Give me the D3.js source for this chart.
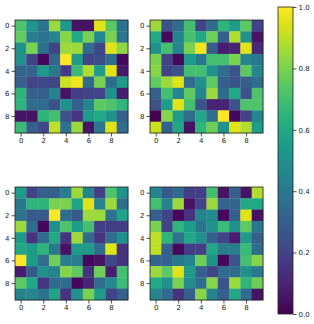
<!DOCTYPE html>
<html><head><meta charset="utf-8">
<script src="https://cdn.jsdelivr.net/npm/d3@7"></script>
<style>body{margin:0;background:#fff}svg{display:block}text{font-family:"DejaVu Sans",sans-serif;font-size:7px;fill:#222}</style>
</head><body><svg id="c" width="314" height="324"></svg>
<script>
const ticks = [0, 2, 4, 6, 8];
const cbTicks = [0.0, 0.2, 0.4, 0.6, 0.8, 1.0];
const gridA = [
 [0.72,0.52,0.38,0.85,0.53,0.05,0.05,0.95,0.74,0.37],
 [0.76,0.42,0.38,0.45,0.82,0.60,0.80,0.47,0.80,0.38],
 [0.50,0.80,0.37,0.20,0.85,0.85,0.35,0.21,0.95,0.83],
 [0.50,0.20,0.02,0.33,1.00,0.55,0.20,0.23,0.35,0.02],
 [0.32,0.32,0.55,0.40,0.17,0.68,0.88,0.55,0.95,0.07],
 [0.30,0.20,0.22,0.20,0.92,0.98,0.35,0.80,0.35,0.55],
 [0.65,0.30,0.30,0.45,0.05,0.18,0.20,0.20,0.50,0.08],
 [0.65,0.35,0.35,0.25,0.50,0.30,0.45,0.75,0.72,0.65],
 [0.05,0.05,0.65,0.70,0.25,0.15,0.55,0.60,0.50,0.30],
 [0.68,0.30,0.22,0.90,0.38,0.85,0.05,0.40,0.95,0.35]];
const gridB = [
 [0.85,0.25,0.35,0.70,0.20,0.35,0.65,0.55,0.75,0.20],
 [0.60,0.02,0.45,0.70,0.60,0.78,0.30,0.88,0.50,0.05],
 [0.50,0.70,0.45,0.80,0.98,0.30,0.08,0.10,0.95,0.12],
 [0.80,0.20,0.02,0.55,0.40,0.70,0.70,0.80,0.45,0.40],
 [0.82,0.20,0.25,0.70,0.70,0.50,0.35,0.25,0.75,0.45],
 [0.75,0.85,0.95,0.35,0.50,0.75,0.30,0.25,0.30,0.35],
 [0.30,0.70,0.45,0.75,0.45,0.85,0.35,0.60,0.25,0.72],
 [0.25,0.55,0.95,0.70,0.25,0.10,0.10,0.25,0.72,0.72],
 [0.00,0.82,0.55,0.35,0.60,0.35,1.00,0.02,0.20,0.45],
 [0.92,0.30,0.60,0.05,0.65,0.78,0.50,0.95,0.88,0.55]];
const gridC = [
 [0.55,0.20,0.30,0.30,0.42,0.85,0.45,0.18,0.72,0.50],
 [0.40,0.65,0.65,0.80,0.80,0.58,0.95,0.45,0.85,0.35],
 [0.38,0.28,0.28,1.00,0.35,0.28,0.85,0.85,0.38,0.58],
 [0.85,0.35,0.02,0.50,0.72,0.55,0.70,0.18,0.18,0.18],
 [0.55,0.15,0.35,0.60,0.15,0.85,0.35,0.15,0.35,0.50],
 [0.60,0.55,0.65,0.40,0.05,0.55,0.55,0.35,0.95,0.15],
 [1.00,0.55,0.35,0.78,0.42,0.42,0.02,0.05,0.22,0.15],
 [0.08,0.28,0.50,0.45,0.82,0.75,0.15,0.78,0.08,0.70],
 [0.75,0.60,0.15,0.35,0.35,0.02,0.10,0.35,0.48,0.68],
 [0.45,0.45,0.38,0.58,0.15,0.50,0.80,0.55,0.20,0.30]];
const gridD = [
 [0.45,0.28,0.35,0.18,0.18,0.70,0.05,0.30,0.05,0.88],
 [0.70,0.45,0.85,0.05,0.20,0.85,0.32,0.32,0.60,0.60],
 [0.30,0.20,0.02,0.15,0.45,0.48,0.02,0.30,0.95,0.05],
 [0.80,0.20,0.65,0.55,0.38,0.50,0.68,0.50,0.75,0.40],
 [0.90,0.65,0.38,0.60,0.50,0.30,0.20,0.08,0.55,0.30],
 [0.90,0.30,0.02,0.18,0.18,0.60,0.42,0.42,0.68,0.35],
 [0.32,0.32,0.40,0.45,0.78,0.50,0.02,0.25,0.70,0.82],
 [0.85,0.75,0.95,0.55,0.30,0.20,0.35,0.35,0.50,0.40],
 [0.60,0.50,0.80,0.48,0.35,0.82,0.25,0.85,0.65,0.78],
 [0.45,0.35,0.15,0.30,0.82,0.45,0.30,0.60,0.35,0.05]];

const grids = [gridA, gridB, gridC, gridD];
const panels = [{x:15,y:20},{x:150,y:20},{x:15,y:187},{x:150,y:187}];
const size = 113;
const color = d3.scaleSequential(d3.interpolateViridis).domain([0,1]);
const svg = d3.select("#c");
const idx = d3.range(10);

grids.forEach((g, k) => {
  const p = panels[k];
  const x = d3.scaleBand().domain(idx).range([0, size]);
  const y = d3.scaleBand().domain(idx).range([0, size]);
  const gr = svg.append("g").attr("transform", `translate(${p.x},${p.y})`);
  const cells = [];
  g.forEach((row, r) => row.forEach((v, c) => cells.push({r, c, v})));
  gr.selectAll("rect").data(cells).join("rect")
    .attr("x", d => x(d.c)).attr("y", d => y(d.r))
    .attr("width", x.bandwidth() + 0.3).attr("height", y.bandwidth() + 0.3)
    .attr("fill", d => color(d.v));
  const xl = d3.scaleLinear().domain([-0.5, 9.5]).range([0, size]);
  const ax = gr.append("g").attr("transform", `translate(0,${size})`)
    .call(d3.axisBottom(xl).tickValues(ticks).tickSize(3.5).tickPadding(2).tickFormat(d3.format("d")));
  const ay = gr.append("g")
    .call(d3.axisLeft(xl).tickValues(ticks).tickSize(3.5).tickPadding(2).tickFormat(d3.format("d")));
  [ax, ay].forEach(a => { a.select(".domain").remove(); a.selectAll("line").attr("stroke","#222").attr("stroke-width",0.8); a.selectAll("text").attr("font-size",7).attr("font-family","DejaVu Sans").attr("fill","#222"); });
  gr.append("rect").attr("width", size).attr("height", size).attr("fill","none").attr("stroke","#222").attr("stroke-width",0.8);
});

// colorbar
const cb = {x:278, y:7, w:15, h:307};
const defs = svg.append("defs");
const lg = defs.append("linearGradient").attr("id","vg").attr("x1",0).attr("y1",1).attr("x2",0).attr("y2",0);
d3.range(0, 1.0001, 0.05).forEach(t => lg.append("stop").attr("offset", t).attr("stop-color", color(t)));
svg.append("rect").attr("x",cb.x).attr("y",cb.y).attr("width",cb.w).attr("height",cb.h).attr("fill","url(#vg)").attr("stroke","#222").attr("stroke-width",0.8);
const cs = d3.scaleLinear().domain([0,1]).range([cb.y+cb.h, cb.y]);
const cax = svg.append("g").attr("transform", `translate(${cb.x+cb.w},0)`)
  .call(d3.axisRight(cs).tickValues(cbTicks).tickSize(3.5).tickPadding(2).tickFormat(d3.format(".1f")));
cax.select(".domain").remove();
cax.selectAll("line").attr("stroke","#222").attr("stroke-width",0.8);
cax.selectAll("text").attr("font-size",7).attr("font-family","DejaVu Sans").attr("fill","#222");
</script></body></html>
